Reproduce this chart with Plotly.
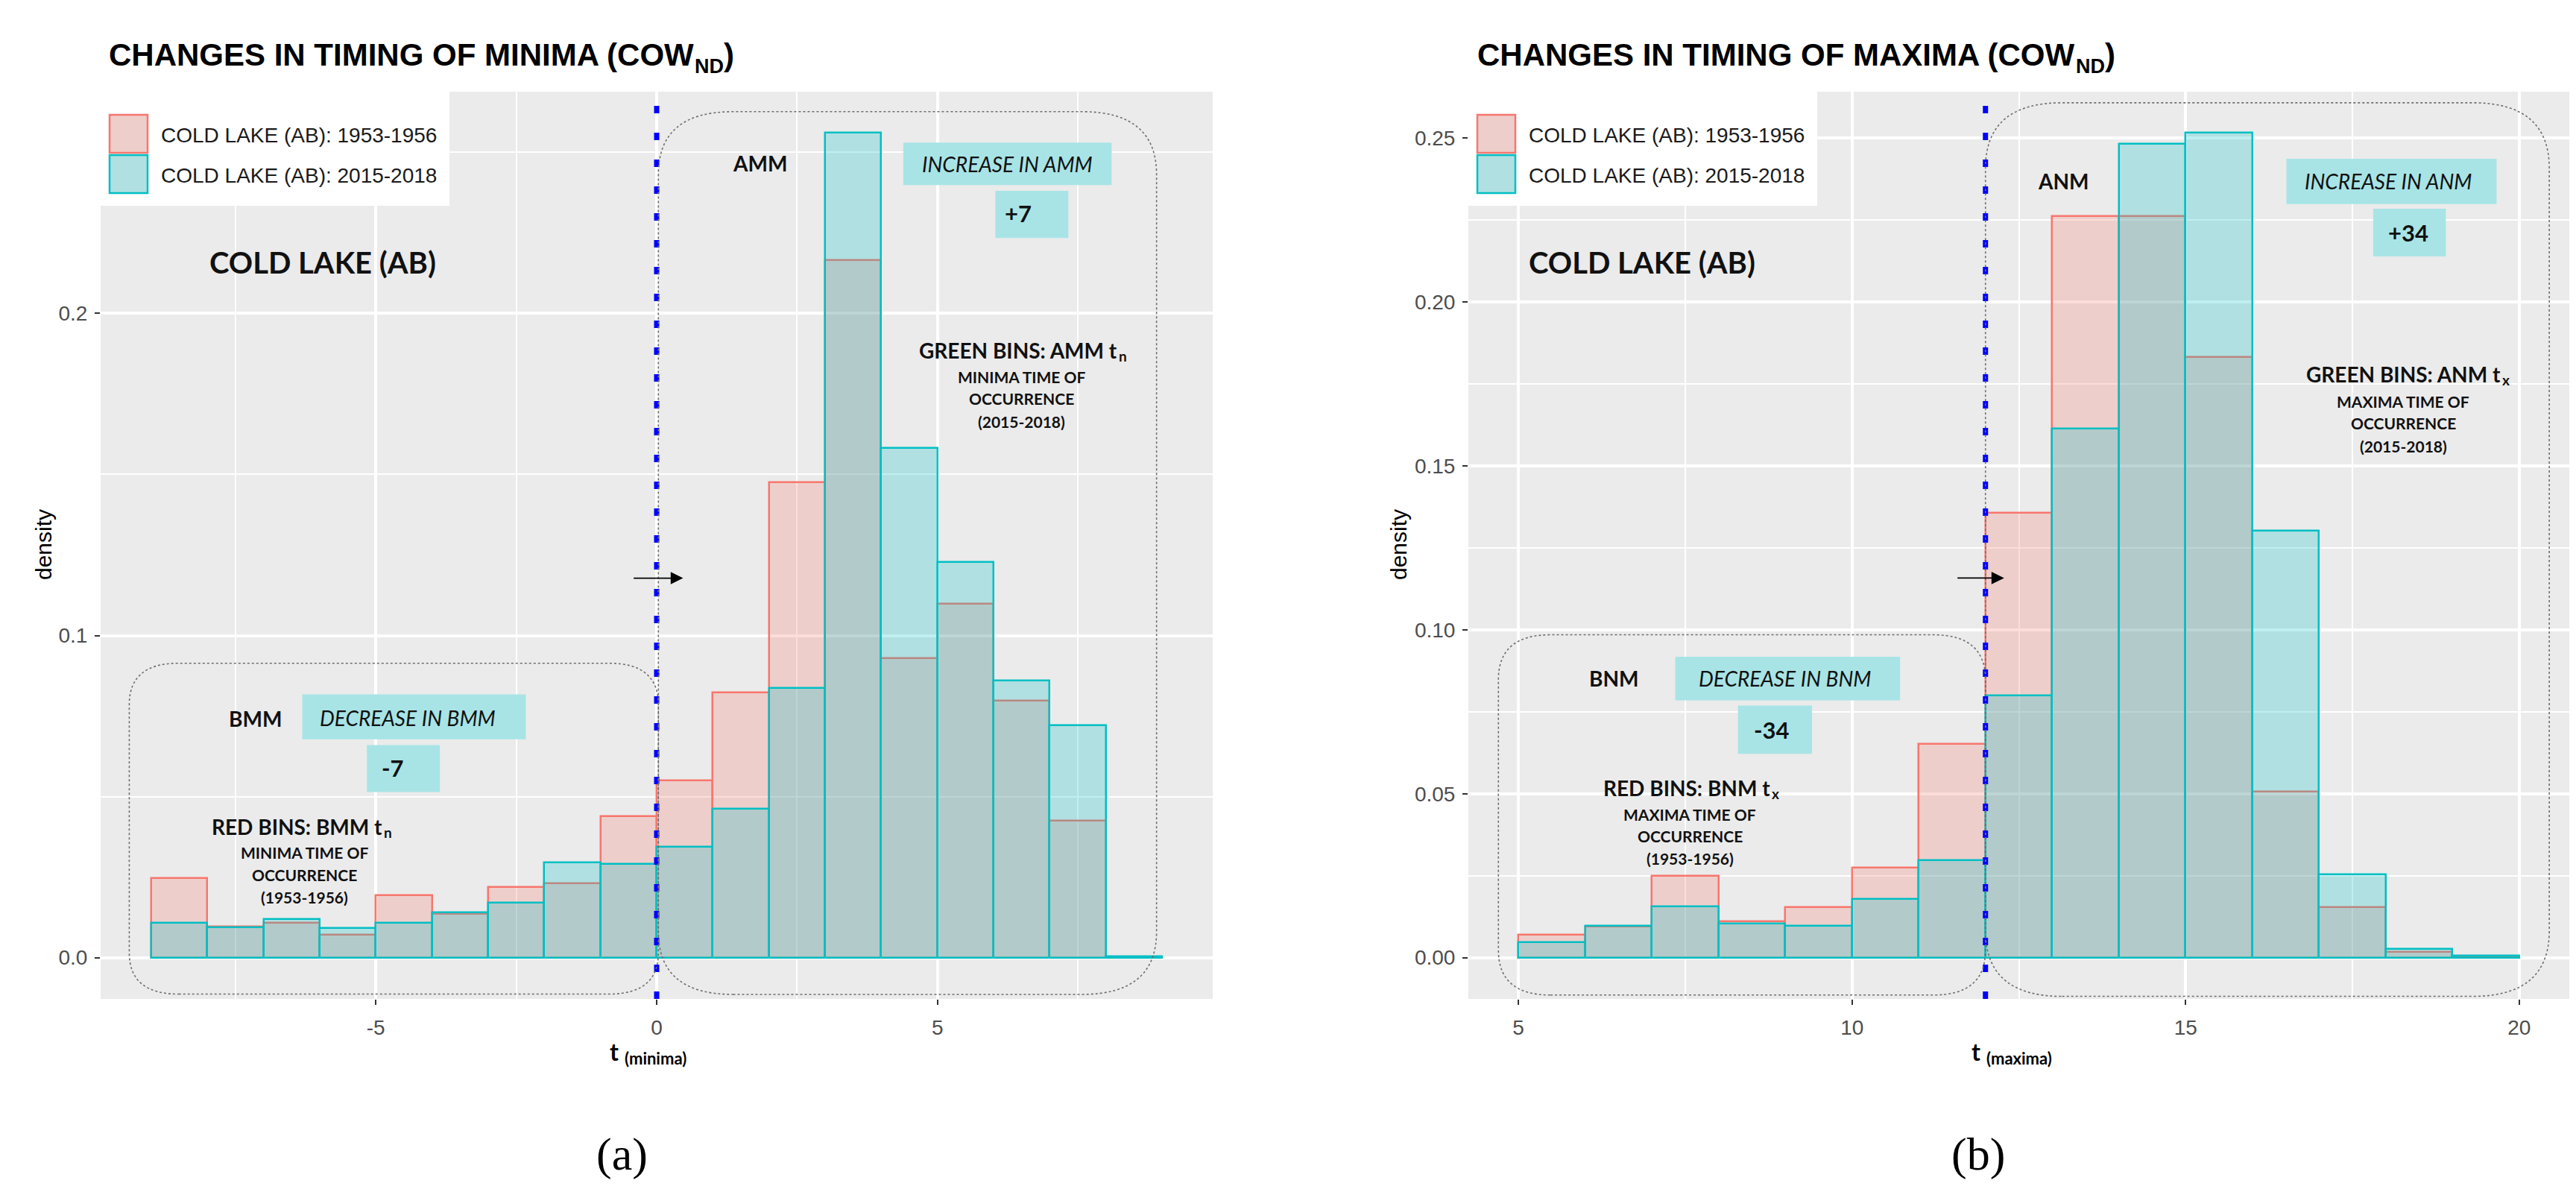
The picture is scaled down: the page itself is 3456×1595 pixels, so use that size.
import plotly.graph_objects as go

W, H = 3456, 1595

# ---------------- data ----------------
# (a) timing of minima: histogram, bin width 1, bins start at these values
min_bin_start = [-9, -8, -7, -6, -5, -4, -3, -2, -1, 0, 1, 2, 3, 4, 5, 6, 7, 8]
min_density_1953_1956 = [0.0248, 0.0097, 0.0108, 0.0070, 0.0194, 0.0135, 0.0220, 0.0231, 0.0440,
                         0.0550, 0.0824, 0.1475, 0.2165, 0.0930, 0.1099, 0.0797, 0.0426, 0.0000]
min_density_2015_2018 = [0.0107, 0.0093, 0.0119, 0.0091, 0.0107, 0.0140, 0.0171, 0.0296, 0.0291,
                         0.0344, 0.0463, 0.0838, 0.2560, 0.1581, 0.1229, 0.0860, 0.0722, 0.0004]

# (b) timing of maxima
max_bin_start = [5, 6, 7, 8, 9, 10, 11, 12, 13, 14, 15, 16, 17, 18, 19]
max_density_1953_1956 = [0.0069, 0.0094, 0.0250, 0.0111, 0.0154, 0.0275, 0.0651, 0.1356,
                         0.2261, 0.2261, 0.1833, 0.0507, 0.0153, 0.0018, 0.0003]
max_density_2015_2018 = [0.0047, 0.0096, 0.0157, 0.0105, 0.0096, 0.0180, 0.0297, 0.0799,
                         0.1613, 0.2483, 0.2516, 0.1303, 0.0254, 0.0027, 0.0007]

bin_width = 1
series_names = ["COLD LAKE (AB): 1953-1956", "COLD LAKE (AB): 2015-2018"]

min_x_ticks = [-5, 0, 5]
min_x_minor = [-7.5, -2.5, 2.5, 7.5]
min_y_ticks = [0.0, 0.1, 0.2]
min_y_labels = ["0.0", "0.1", "0.2"]
min_y_minor = [0.05, 0.15, 0.25]

max_x_ticks = [5, 10, 15, 20]
max_x_minor = [7.5, 12.5, 17.5]
max_y_ticks = [0.00, 0.05, 0.10, 0.15, 0.20, 0.25]
max_y_labels = ["0.00", "0.05", "0.10", "0.15", "0.20", "0.25"]
max_y_minor = [0.025, 0.075, 0.125, 0.175, 0.225]

min_threshold = 0   # blue dotted separator (a)
max_threshold = 12  # blue dotted separator (b)

# ---------------- styles ----------------
RED_FILL = "rgba(248,118,109,0.25)"
RED_LINE = "#F8766D"
CYAN_FILL = "rgba(0,191,196,0.25)"
CYAN_LINE = "#00BFC4"
BOX_FILL = "#A8E4E6"
PANEL_BG = "#EBEBEB"
SANS = "Liberation Sans, Arial, sans-serif"
CAL = "Lato, Carlito, sans-serif"
SERIF = "Liberation Serif, Times New Roman, serif"


def px_x(p):
    return p / W


def px_y(p):
    return 1 - p / H


def centers(starts):
    return [s + bin_width / 2 for s in starts]


def span(a, b):
    lo = min(min(a), min(b), 0)
    hi = max(max(a), max(b))
    pad = (hi - lo) * 0.05
    return [lo - pad, hi + pad]


fig = go.Figure()

for xa, ya, starts, d1, d2 in [("x", "y", min_bin_start, min_density_1953_1956, min_density_2015_2018),
                               ("x2", "y2", max_bin_start, max_density_1953_1956, max_density_2015_2018)]:
    fig.add_trace(go.Bar(x=centers(starts), y=d1, width=bin_width, name=series_names[0],
                         marker=dict(color=RED_FILL, line=dict(color=RED_LINE, width=2.5)),
                         xaxis=xa, yaxis=ya, showlegend=False))
    fig.add_trace(go.Bar(x=centers(starts), y=d2, width=bin_width, name=series_names[1],
                         marker=dict(color=CYAN_FILL, line=dict(color=CYAN_LINE, width=2.5)),
                         xaxis=xa, yaxis=ya, showlegend=False))

min_xr = [min_bin_start[0] - 0.05 * (len(min_bin_start) * bin_width),
          min_bin_start[-1] + bin_width + 0.05 * (len(min_bin_start) * bin_width)]
max_xr = [max_bin_start[0] - 0.05 * (len(max_bin_start) * bin_width),
          max_bin_start[-1] + bin_width + 0.05 * (len(max_bin_start) * bin_width)]

tickfont = dict(family=SANS, size=28, color="#4D4D4D")


def xaxis_cfg(domain, rng, ticks, minor, anchor):
    return dict(domain=domain, range=rng, tickvals=ticks, ticktext=[str(t) for t in ticks],
                showgrid=True, gridcolor="white", gridwidth=4, zeroline=False, showline=False,
                minor=dict(tickvals=minor, showgrid=True, gridcolor="white", gridwidth=2, ticks=""),
                ticks="outside", ticklen=7, tickwidth=2, tickcolor="#333333",
                tickfont=tickfont, anchor=anchor, fixedrange=True, ticklabelstandoff=6)


def yaxis_cfg(domain, rng, ticks, labels, minor, anchor):
    return dict(domain=domain, range=rng, tickvals=ticks, ticktext=labels,
                showgrid=True, gridcolor="white", gridwidth=4, zeroline=False, showline=False,
                minor=dict(tickvals=minor, showgrid=True, gridcolor="white", gridwidth=2, ticks=""),
                ticks="outside", ticklen=7, tickwidth=2, tickcolor="#333333",
                tickfont=tickfont, anchor=anchor, fixedrange=True, ticklabelstandoff=4)


ydom = [px_y(1332), px_y(115)]
fig.update_layout(
    width=W, height=H, margin=dict(l=0, r=0, t=0, b=0),
    paper_bgcolor="white", plot_bgcolor=PANEL_BG, barmode="overlay", bargap=0,
    xaxis=xaxis_cfg([px_x(127), px_x(1619)], min_xr, min_x_ticks, min_x_minor, "y"),
    yaxis=yaxis_cfg(ydom, span(min_density_1953_1956, min_density_2015_2018), min_y_ticks, min_y_labels, min_y_minor, "x"),
    xaxis2=xaxis_cfg([px_x(1962), px_x(3439)], max_xr, max_x_ticks, max_x_minor, "y2"),
    yaxis2=yaxis_cfg(ydom, span(max_density_1953_1956, max_density_2015_2018), max_y_ticks, max_y_labels, max_y_minor, "x2"),
)

shapes = []
annots = []


def rbox(x0, x1, y0, y1, rx, ry, xref, yref):
    path = (f"M {x0 + rx},{y0} L {x1 - rx},{y0} Q {x1},{y0} {x1},{y0 + ry} "
            f"L {x1},{y1 - ry} Q {x1},{y1} {x1 - rx},{y1} L {x0 + rx},{y1} "
            f"Q {x0},{y1} {x0},{y1 - ry} L {x0},{y0 + ry} Q {x0},{y0} {x0 + rx},{y0} Z")
    shapes.append(dict(type="path", path=path, xref=xref, yref=yref, layer="above",
                       line=dict(color="#6E6E6E", width=1.6, dash="dot"), fillcolor="rgba(0,0,0,0)"))


def fbox(x0, x1, y0, y1, xref, yref):
    shapes.append(dict(type="rect", x0=x0, x1=x1, y0=y0, y1=y1, xref=xref, yref=yref, layer="above",
                       line=dict(width=0), fillcolor=BOX_FILL))


def txt(text, x, y, size, xref, yref, family=CAL, color="#111111", xanchor="center", angle=0):
    annots.append(dict(text=text, x=x, y=y, xref=xref, yref=yref, showarrow=False, borderpad=0,
                       font=dict(family=family, size=size, color=color),
                       xanchor=xanchor, yanchor="middle", textangle=angle))


def arrow(x0, x1, y, hl, hh, xref, yref):
    shapes.append(dict(type="line", x0=x0, x1=x1 - hl * 0.6, y0=y, y1=y, xref=xref, yref=yref,
                       layer="above", line=dict(color="black", width=1.8)))
    shapes.append(dict(type="path", path=f"M {x1},{y} L {x1 - hl},{y + hh} L {x1 - hl},{y - hh} Z",
                       xref=xref, yref=yref, layer="above", fillcolor="black", line=dict(width=0)))


def vdots(x, xref, yref):
    shapes.append(dict(type="line", x0=x, x1=x, y0=0, y1=1, xref=xref, yref=yref, layer="above",
                       line=dict(color="#0000FF", width=7, dash="10px,26px")))


def legend(left_px):
    shapes.append(dict(type="rect", xref="paper", yref="paper", layer="above",
                       x0=px_x(left_px), x1=px_x(left_px + 468), y0=px_y(268), y1=px_y(115),
                       fillcolor="white", line=dict(width=0)))
    for i, (fill, line) in enumerate([(RED_FILL, RED_LINE), (CYAN_FILL, CYAN_LINE)]):
        top = 146 + i * 54
        shapes.append(dict(type="rect", xref="paper", yref="paper", layer="above",
                           x0=px_x(left_px + 12), x1=px_x(left_px + 63), y0=px_y(top + 51), y1=px_y(top),
                           fillcolor="rgba(235,235,235,1)", line=dict(width=0)))
        shapes.append(dict(type="rect", xref="paper", yref="paper", layer="above",
                           x0=px_x(left_px + 12), x1=px_x(left_px + 63), y0=px_y(top + 51), y1=px_y(top),
                           fillcolor=fill, line=dict(color=line, width=2.5)))
        txt(series_names[i], px_x(left_px + 80), px_y(top + 27), 28, "paper", "paper",
            family=SANS, color="#1A1A1A", xanchor="left")


def title(main, main_em, left_px):
    # Liberation Sans Bold is metric-compatible with Arial Bold: main_em = advance width in em
    nd_left = left_px + main_em * 42
    txt(f"<b>{main}</b>", px_x(left_px), px_y(66), 42, "paper", "paper", family=SANS, color="black",
        xanchor="left")
    txt("<b>ND</b>", px_x(nd_left), px_y(81), 27, "paper", "paper", family=SANS, color="black",
        xanchor="left")
    txt("<b>)</b>", px_x(nd_left + 1.444 * 27), px_y(66), 42, "paper", "paper", family=SANS, color="black",
        xanchor="left")


def subbed(main, sub, x_sub, y, dy, xref, yref):
    txt(f"<b>{main}</b>", x_sub, y, 28, xref, yref, xanchor="right")
    txt(f"<b>{sub}</b>", x_sub, y - dy, 19, xref, yref, xanchor="left")


def xlabel(word, t_right_px):
    txt("<b>t</b>", px_x(t_right_px), px_y(1402), 32, "paper", "paper", color="black", xanchor="right")
    txt(f"<b>({word})</b>", px_x(t_right_px + 6), px_y(1411), 22, "paper", "paper", color="black",
        xanchor="left")


# ---------- panel (a) decorations ----------
legend(127)
title("CHANGES IN TIMING OF MINIMA (COW", 18.722, 137)
txt("density", px_x(50), px_y(723), 30, "paper", "paper", family=SANS, color="black", angle=-90)
xlabel("minima", 823)
txt("(a)", px_x(826), px_y(1540), 62, "paper", "paper", family=SERIF, color="black")

vdots(min_threshold, "x", "y domain")
rbox(0.03, 8.9, -0.0114, 0.2626, 1.33, 0.0195, "x", "y")
rbox(-9.39, 0.03, -0.0113, 0.0914, 0.88, 0.0128, "x", "y")
txt("<b>COLD LAKE (AB)</b>", -5.95, 0.2158, 40, "x", "y")
txt("<b>AMM</b>", 1.84, 0.2465, 28, "x", "y")
fbox(4.39, 8.10, 0.2398, 0.2530, "x", "y")
txt("<i>INCREASE IN AMM</i>", 6.24, 0.2463, 28, "x", "y")
fbox(6.03, 7.33, 0.2234, 0.2380, "x", "y")
txt("<b>+7</b>", 6.43, 0.2311, 31, "x", "y")
subbed("GREEN BINS: AMM t", "n", 8.22, 0.1884, 0.0017, "x", "y")
txt("<b>MINIMA TIME OF</b>", 6.50, 0.1803, 21, "x", "y")
txt("<b>OCCURRENCE</b>", 6.50, 0.1736, 21, "x", "y")
txt("<b>(2015-2018)</b>", 6.50, 0.1664, 21, "x", "y")
txt("<b>BMM</b>", -7.14, 0.0743, 28, "x", "y")
fbox(-6.31, -2.33, 0.0678, 0.0817, "x", "y")
txt("<i>DECREASE IN BMM</i>", -4.43, 0.0745, 28, "x", "y")
fbox(-5.16, -3.86, 0.0514, 0.0660, "x", "y")
txt("<b>-7</b>", -4.70, 0.0589, 31, "x", "y")
subbed("RED BINS: BMM t", "n", -4.87, 0.0407, 0.0017, "x", "y")
txt("<b>MINIMA TIME OF</b>", -6.27, 0.0326, 21, "x", "y")
txt("<b>OCCURRENCE</b>", -6.27, 0.0257, 21, "x", "y")
txt("<b>(1953-1956)</b>", -6.27, 0.0188, 21, "x", "y")
arrow(-0.41, 0.47, 0.1178, 0.22, 0.0019, "x", "y")

# ---------- panel (b) decorations ----------
legend(1962)
title("CHANGES IN TIMING OF MAXIMA (COW", 19.111, 1973)
txt("density", px_x(1868), px_y(723), 30, "paper", "paper", family=SANS, color="black", angle=-90)
xlabel("maxima", 2650)
txt("(b)", px_x(2646), px_y(1540), 62, "paper", "paper", family=SERIF, color="black")

vdots(max_threshold, "x2", "y2 domain")
rbox(12.0, 20.45, -0.0118, 0.2608, 1.15, 0.0200, "x2", "y2")
rbox(4.70, 12.0, -0.0114, 0.0985, 0.78, 0.0137, "x2", "y2")
txt("<b>COLD LAKE (AB)</b>", 6.85, 0.2120, 40, "x2", "y2")
txt("<b>ANM</b>", 13.16, 0.2369, 28, "x2", "y2")
fbox(16.51, 19.66, 0.2299, 0.2437, "x2", "y2")
txt("<i>INCREASE IN ANM</i>", 18.04, 0.2368, 28, "x2", "y2")
fbox(17.81, 18.90, 0.2139, 0.2285, "x2", "y2")
txt("<b>+34</b>", 18.34, 0.2212, 31, "x2", "y2")
subbed("GREEN BINS: ANM t", "x", 19.73, 0.1780, 0.0017, "x2", "y2")
txt("<b>MAXIMA TIME OF</b>", 18.26, 0.1698, 21, "x2", "y2")
txt("<b>OCCURRENCE</b>", 18.26, 0.1631, 21, "x2", "y2")
txt("<b>(2015-2018)</b>", 18.26, 0.1561, 21, "x2", "y2")
txt("<b>BNM</b>", 6.43, 0.0853, 28, "x2", "y2")
fbox(7.35, 10.72, 0.0785, 0.0918, "x2", "y2")
txt("<i>DECREASE IN BNM</i>", 9.00, 0.0851, 28, "x2", "y2")
fbox(8.29, 9.40, 0.0622, 0.0769, "x2", "y2")
txt("<b>-34</b>", 8.80, 0.0696, 31, "x2", "y2")
subbed("RED BINS: BNM t", "x", 8.79, 0.0517, 0.0017, "x2", "y2")
txt("<b>MAXIMA TIME OF</b>", 7.57, 0.0438, 21, "x2", "y2")
txt("<b>OCCURRENCE</b>", 7.57, 0.0371, 21, "x2", "y2")
txt("<b>(1953-1956)</b>", 7.57, 0.0303, 21, "x2", "y2")
arrow(11.58, 12.28, 0.1158, 0.19, 0.0019, "x2", "y2")

fig.update_layout(shapes=shapes, annotations=annots)
fig.write_html("out.html")
